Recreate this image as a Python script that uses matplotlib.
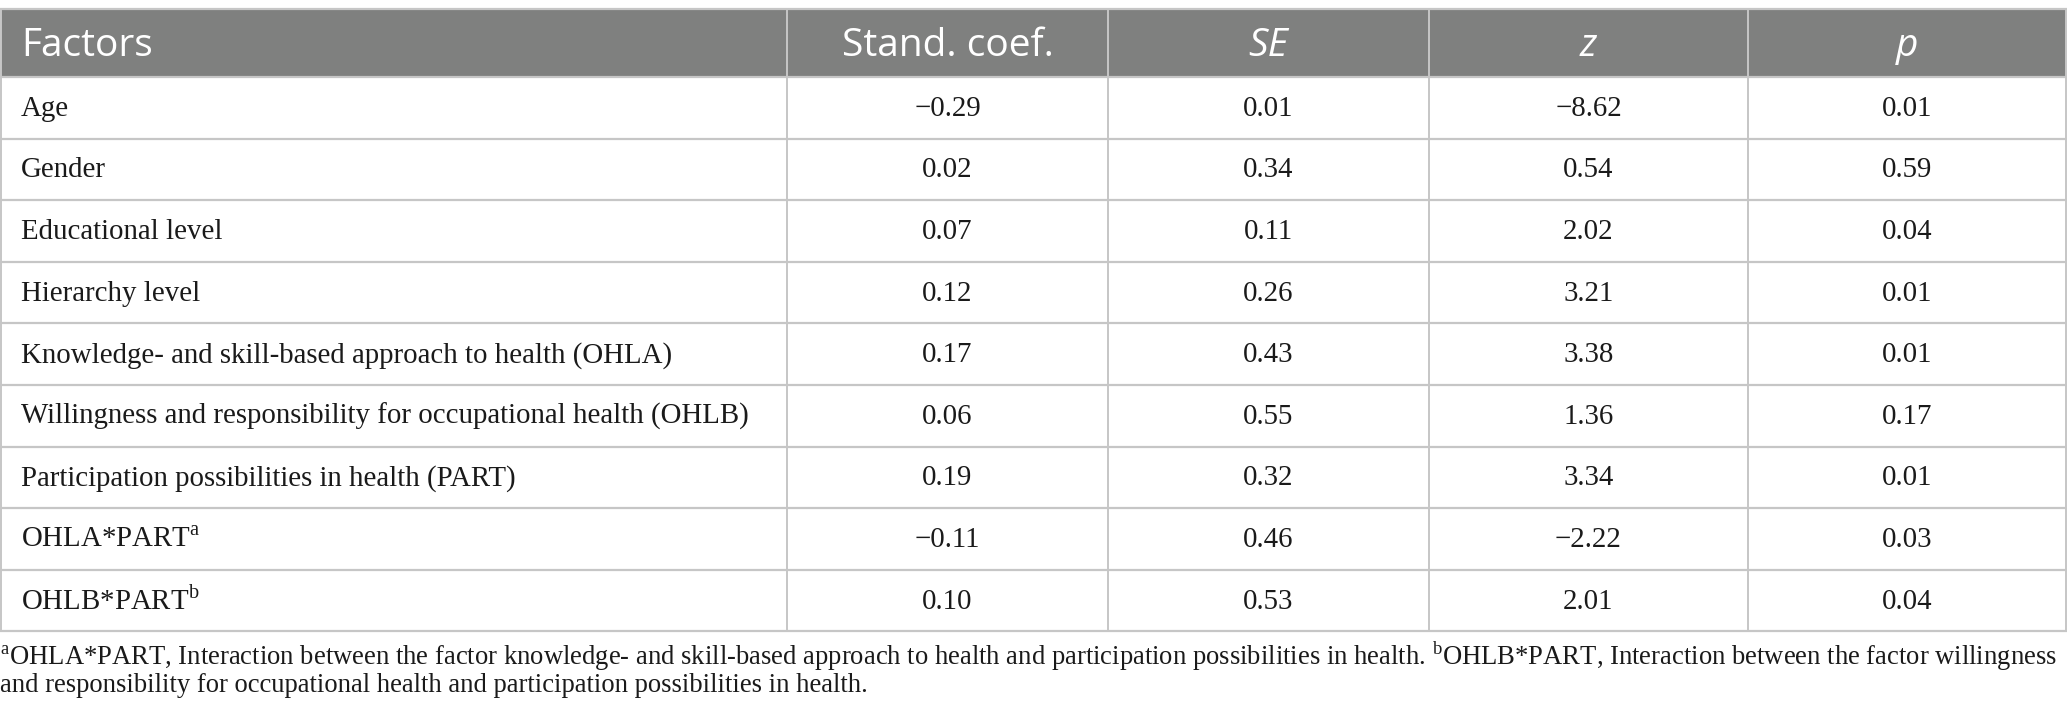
import matplotlib.pyplot as plt
from matplotlib.patches import Rectangle

# ---- table data ----
headers = ["Factors", "Stand. coef.", "SE", "z", "p"]
header_italic = [False, False, True, True, True]
factors = [
    "Age",
    "Gender",
    "Educational level",
    "Hierarchy level",
    "Knowledge- and skill-based approach to health (OHLA)",
    "Willingness and responsibility for occupational health (OHLB)",
    "Participation possibilities in health (PART)",
    r"OHLA*PART$^{\mathrm{a}}$",
    r"OHLB*PART$^{\mathrm{b}}$",
]
stand_coef = [-0.29, 0.02, 0.07, 0.12, 0.17, 0.06, 0.19, -0.11, 0.10]
se_vals = [0.01, 0.34, 0.11, 0.26, 0.43, 0.55, 0.32, 0.46, 0.53]
z_vals = [-8.62, 0.54, 2.02, 3.21, 3.38, 1.36, 3.34, -2.22, 2.01]
p_vals = [0.01, 0.59, 0.04, 0.01, 0.01, 0.17, 0.01, 0.03, 0.04]
footnote = [
    r"$^{\mathrm{a}}$OHLA*PART, Interaction between the factor knowledge- and skill-based approach to health "
    r"and participation possibilities in health. $^{\mathrm{b}}$OHLB*PART, Interaction between the factor willingness",
    "and responsibility for occupational health and participation possibilities in health.",
]

plt.rcParams['mathtext.fontset'] = 'custom'
plt.rcParams['mathtext.rm'] = 'Liberation Serif'

W, H = 2067, 725
fig = plt.figure(figsize=(W / 100, H / 100), dpi=100)
ax = fig.add_axes([0, 0, 1, 1])
ax.set_xlim(0, W)
ax.set_ylim(H, 0)
ax.axis('off')

col_edges = [1, 787, 1108, 1429, 1748, 2066]
head_top, head_bot = 9, 77
row_h = 61.6
n = len(factors)
grid_col = '#c6c6c6'
head_bg = '#7f807f'
txt_col = '#1a1a1a'

# header band
ax.add_patch(Rectangle((col_edges[0], head_top), col_edges[-1] - col_edges[0],
                       head_bot - head_top, facecolor=head_bg, edgecolor='none'))

serif = ['Liberation Serif', 'DejaVu Serif']
sans = ['Open Sans', 'DejaVu Sans']

for j, h in enumerate(headers):
    if j == 0:
        x, ha = col_edges[0] + 20, 'left'
    else:
        x, ha = (col_edges[j] + col_edges[j + 1]) / 2, 'center'
    ax.text(x, (head_top + head_bot) / 2 + 3, h, color='white', fontsize=28,
            family=sans, style='italic' if header_italic[j] else 'normal',
            ha=ha, va='center')


def fmt(v):
    return f"{v:.2f}".replace('-', '\u2212')


for i in range(n):
    yc = head_bot + (i + 0.5) * row_h + 1
    ax.text(col_edges[0] + 20, yc, factors[i], fontsize=20.8, family=serif,
            ha='left', va='center', color=txt_col)
    for j, col in enumerate([stand_coef, se_vals, z_vals, p_vals], start=1):
        ax.text((col_edges[j] + col_edges[j + 1]) / 2, yc, fmt(col[i]), fontsize=20.8,
                family=serif, ha='center', va='center', color=txt_col)

# grid lines
bottom = head_bot + n * row_h
for i in range(n + 1):
    y = head_bot + i * row_h
    ax.plot([col_edges[0], col_edges[-1]], [y, y], color=grid_col, lw=1.6)
ax.plot([col_edges[0], col_edges[-1]], [head_top, head_top], color=grid_col, lw=1.6)
for j, x in enumerate(col_edges):
    ax.plot([x, x], [head_top, bottom], color=grid_col, lw=1.4)

# footnote
ax.text(0, 656, footnote[0], fontsize=19.2, family=serif, ha='left', va='center', color=txt_col)
ax.text(0, 685, footnote[1], fontsize=19.2, family=serif, ha='left', va='center', color=txt_col)

fig.savefig('out.png', dpi=100)
